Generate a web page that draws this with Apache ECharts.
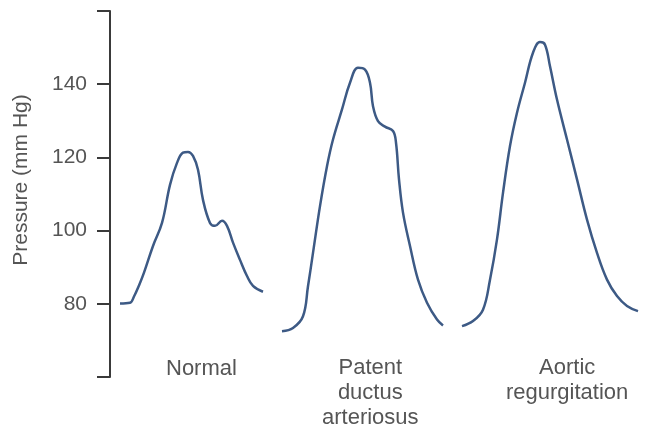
<!DOCTYPE html>
<html>
<head>
<meta charset="UTF-8">
<title>Pressure waveforms</title>
<script src="https://cdn.jsdelivr.net/npm/echarts@6/dist/echarts.min.js"></script>
</head>
<body style="margin:0;background:#fff">
<div id="main" style="width:647px;height:432px;"></div>
<script type="text/javascript">
// time axis is arbitrary units, pressure in mm Hg
var normalT = [120,130,134,139,144,153,162,170,177,183,188,193,198,203,210,215,222,227,233,240,247,253,263];
var normalP = [80.1,80.3,82.0,85.0,88.5,95.8,102.1,112.5,118.5,121.3,121.5,120.4,116.6,108.4,102.1,101.3,102.7,101.3,96.7,92.0,87.6,84.9,83.3];

var pdaT = [282,293,303,308,313,320,327,333,342,350,358,365,370,373,378,385,393,396,399,403,410,418,427,437,443];
var pdaP = [72.5,73.4,76.6,84.8,93.9,106.7,117.6,124.9,133.1,140.4,144.5,144.0,140.4,134.0,129.9,128.4,127.2,124.0,114.0,104.9,95.8,86.6,80.3,75.7,74.1];

var arT = [462,473,483,490,497,503,510,517,525,533,540,545,550,557,567,577,587,597,607,617,627,638];
var arP = [73.9,75.3,78.4,86.6,97.6,110.3,123.1,132.2,140.4,148.6,151.5,150.8,144.9,135.8,124.9,114.0,103.0,93.9,86.6,82.1,79.4,78.0];

var groupNames = ['Normal', 'Patent\nductus\narteriosus', 'Aortic\nregurgitation'];
var yTicks = [80, 100, 120, 140];

function zip(t, p) {
    var out = [];
    for (var i = 0; i < t.length; i++) out.push([t[i], p[i]]);
    return out;
}

var myChart = echarts.init(document.getElementById('main'));
var lineColor = '#3d5a85';
var font = '"Liberation Sans", Arial, sans-serif';

function curve(name, t, p) {
    return {
        name: name,
        type: 'line',
        smooth: 0.4,
        symbol: 'none',
        data: zip(t, p),
        lineStyle: { color: lineColor, width: 2.5 }
    };
}

function label(text, left, top) {
    return {
        type: 'text', left: left, top: top,
        style: { text: text, fill: '#555', font: '22px ' + font, align: 'center', textAlign: 'center', lineHeight: 25 }
    };
}

var option = {
    animation: false,
    grid: { left: 110, right: 2, top: 11, bottom: 55 },
    xAxis: {
        type: 'value',
        min: 110,
        max: 645,
        show: false
    },
    yAxis: {
        type: 'value',
        min: 60,
        max: 160,
        interval: 20,
        name: 'Pressure (mm Hg)',
        nameLocation: 'middle',
        nameGap: 78,
        nameRotate: 90,
        nameTextStyle: { color: '#555', fontSize: 21, fontFamily: font, padding: [0, 0, 0, 28] },
        axisLine: { show: true, lineStyle: { color: '#3a3a3a', width: 2 } },
        axisTick: { show: true, length: 13, lineStyle: { color: '#3a3a3a', width: 2 } },
        axisLabel: {
            color: '#555',
            fontSize: 21,
            fontFamily: font,
            margin: 23,
            formatter: function (v) {
                return yTicks.indexOf(v) >= 0 ? String(v) : '';
            }
        },
        splitLine: { show: false }
    },
    graphic: [
        label(groupNames[0], 166, 356),
        label(groupNames[1], 322, 355),
        label(groupNames[2], 506, 355)
    ],
    series: [
        curve('Normal', normalT, normalP),
        curve('Patent ductus arteriosus', pdaT, pdaP),
        curve('Aortic regurgitation', arT, arP)
    ]
};
myChart.setOption(option);
</script>
</body>
</html>
